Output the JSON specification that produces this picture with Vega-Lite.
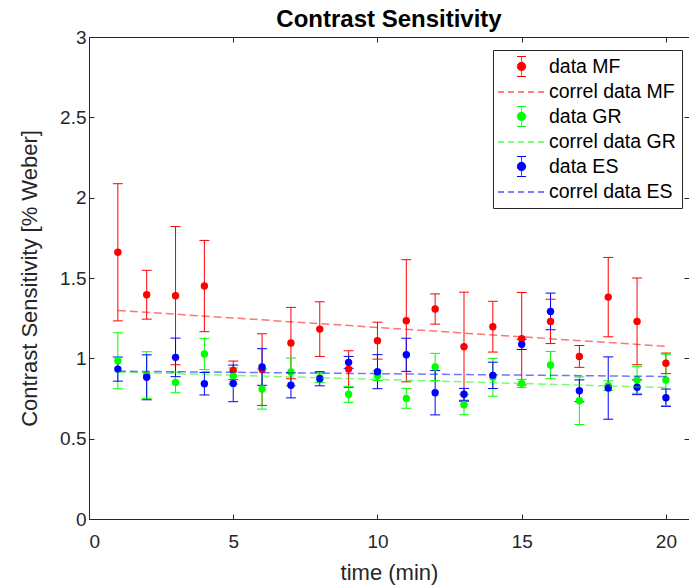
{
  "$schema": "https://vega.github.io/schema/vega-lite/v6.json",
  "width": 600,
  "height": 482,
  "autosize": "none",
  "padding": {"left": 89, "top": 37, "right": 0, "bottom": 66},
  "background": "white",
  "config": {
    "font": "Liberation Sans",
    "view": {"stroke": "#262626", "strokeWidth": 1},
    "axis": {"grid": false, "domainColor": "#262626", "tickColor": "#262626", "labelColor": "#262626", "titleColor": "#262626", "labelFont": "Liberation Sans", "titleFont": "Liberation Sans", "labelFontSize": 19, "titleFontSize": 22, "titleFontWeight": "normal", "tickSize": -5}
  },
  "title": {"text": "Contrast Sensitivity", "fontSize": 24, "fontWeight": "bold", "font": "Liberation Sans", "color": "#000000", "offset": -4},
  "datasets": {
    "pts": [
      {"t": 1, "s": "data MF", "v": 1.66, "lo": 1.233, "hi": 2.087},
      {"t": 2, "s": "data MF", "v": 1.396, "lo": 1.244, "hi": 1.548},
      {"t": 3, "s": "data MF", "v": 1.39, "lo": 0.96, "hi": 1.82},
      {"t": 4, "s": "data MF", "v": 1.45, "lo": 1.166, "hi": 1.734},
      {"t": 5, "s": "data MF", "v": 0.925, "lo": 0.867, "hi": 0.983},
      {"t": 6, "s": "data MF", "v": 0.93, "lo": 0.707, "hi": 1.153},
      {"t": 7, "s": "data MF", "v": 1.095, "lo": 0.873, "hi": 1.317},
      {"t": 8, "s": "data MF", "v": 1.182, "lo": 1.012, "hi": 1.352},
      {"t": 9, "s": "data MF", "v": 0.933, "lo": 0.819, "hi": 1.047},
      {"t": 10, "s": "data MF", "v": 1.11, "lo": 0.995, "hi": 1.225},
      {"t": 11, "s": "data MF", "v": 1.234, "lo": 0.854, "hi": 1.614},
      {"t": 12, "s": "data MF", "v": 1.307, "lo": 1.213, "hi": 1.401},
      {"t": 13, "s": "data MF", "v": 1.072, "lo": 0.732, "hi": 1.412},
      {"t": 14, "s": "data MF", "v": 1.197, "lo": 1.039, "hi": 1.355},
      {"t": 15, "s": "data MF", "v": 1.122, "lo": 0.834, "hi": 1.41},
      {"t": 16, "s": "data MF", "v": 1.23, "lo": 1.092, "hi": 1.368},
      {"t": 17, "s": "data MF", "v": 1.012, "lo": 0.944, "hi": 1.08},
      {"t": 18, "s": "data MF", "v": 1.381, "lo": 1.134, "hi": 1.628},
      {"t": 19, "s": "data MF", "v": 1.23, "lo": 0.96, "hi": 1.5},
      {"t": 20, "s": "data MF", "v": 0.969, "lo": 0.905, "hi": 1.033},
      {"t": 1, "s": "data GR", "v": 0.985, "lo": 0.811, "hi": 1.159},
      {"t": 2, "s": "data GR", "v": 0.896, "lo": 0.751, "hi": 1.041},
      {"t": 3, "s": "data GR", "v": 0.85, "lo": 0.786, "hi": 0.914},
      {"t": 4, "s": "data GR", "v": 1.027, "lo": 0.93, "hi": 1.124},
      {"t": 5, "s": "data GR", "v": 0.89, "lo": 0.84, "hi": 0.94},
      {"t": 6, "s": "data GR", "v": 0.809, "lo": 0.684, "hi": 0.934},
      {"t": 7, "s": "data GR", "v": 0.915, "lo": 0.828, "hi": 1.002},
      {"t": 8, "s": "data GR", "v": 0.88, "lo": 0.85, "hi": 0.91},
      {"t": 9, "s": "data GR", "v": 0.776, "lo": 0.726, "hi": 0.826},
      {"t": 10, "s": "data GR", "v": 0.892, "lo": 0.862, "hi": 0.922},
      {"t": 11, "s": "data GR", "v": 0.751, "lo": 0.689, "hi": 0.813},
      {"t": 12, "s": "data GR", "v": 0.946, "lo": 0.861, "hi": 1.031},
      {"t": 13, "s": "data GR", "v": 0.711, "lo": 0.649, "hi": 0.773},
      {"t": 14, "s": "data GR", "v": 0.882, "lo": 0.764, "hi": 1.0},
      {"t": 15, "s": "data GR", "v": 0.844, "lo": 0.819, "hi": 0.869},
      {"t": 16, "s": "data GR", "v": 0.958, "lo": 0.873, "hi": 1.043},
      {"t": 17, "s": "data GR", "v": 0.736, "lo": 0.588, "hi": 0.884},
      {"t": 18, "s": "data GR", "v": 0.83, "lo": 0.8, "hi": 0.86},
      {"t": 19, "s": "data GR", "v": 0.865, "lo": 0.782, "hi": 0.948},
      {"t": 20, "s": "data GR", "v": 0.865, "lo": 0.705, "hi": 1.025},
      {"t": 1, "s": "data ES", "v": 0.933, "lo": 0.858, "hi": 1.008},
      {"t": 2, "s": "data ES", "v": 0.882, "lo": 0.742, "hi": 1.022},
      {"t": 3, "s": "data ES", "v": 1.006, "lo": 0.886, "hi": 1.126},
      {"t": 4, "s": "data ES", "v": 0.842, "lo": 0.772, "hi": 0.912},
      {"t": 5, "s": "data ES", "v": 0.844, "lo": 0.73, "hi": 0.958},
      {"t": 6, "s": "data ES", "v": 0.946, "lo": 0.832, "hi": 1.06},
      {"t": 7, "s": "data ES", "v": 0.832, "lo": 0.754, "hi": 0.91},
      {"t": 8, "s": "data ES", "v": 0.873, "lo": 0.829, "hi": 0.917},
      {"t": 9, "s": "data ES", "v": 0.975, "lo": 0.938, "hi": 1.012},
      {"t": 10, "s": "data ES", "v": 0.917, "lo": 0.811, "hi": 1.023},
      {"t": 11, "s": "data ES", "v": 1.022, "lo": 0.919, "hi": 1.125},
      {"t": 12, "s": "data ES", "v": 0.786, "lo": 0.648, "hi": 0.924},
      {"t": 13, "s": "data ES", "v": 0.776, "lo": 0.739, "hi": 0.813},
      {"t": 14, "s": "data ES", "v": 0.894, "lo": 0.812, "hi": 0.976},
      {"t": 15, "s": "data ES", "v": 1.087, "lo": 1.055, "hi": 1.119},
      {"t": 16, "s": "data ES", "v": 1.292, "lo": 1.178, "hi": 1.406},
      {"t": 17, "s": "data ES", "v": 0.798, "lo": 0.73, "hi": 0.866},
      {"t": 18, "s": "data ES", "v": 0.815, "lo": 0.621, "hi": 1.009},
      {"t": 19, "s": "data ES", "v": 0.82, "lo": 0.774, "hi": 0.866},
      {"t": 20, "s": "data ES", "v": 0.755, "lo": 0.701, "hi": 0.809}
    ],
    "fit": [
      {"t": 1, "s": "correl data MF", "v": 1.298},
      {"t": 20, "s": "correl data MF", "v": 1.075},
      {"t": 1, "s": "correl data GR", "v": 0.915},
      {"t": 20, "s": "correl data GR", "v": 0.818},
      {"t": 1, "s": "correl data ES", "v": 0.92},
      {"t": 20, "s": "correl data ES", "v": 0.887}
    ]
  },
  "resolve": {"axis": {"x": "independent", "y": "independent"}},
  "layer": [
    {
      "data": {"name": "pts"},
      "mark": {"type": "rule", "strokeWidth": 1},
      "encoding": {
        "x": {"field": "t", "type": "quantitative", "scale": {"domain": [0, 20.8], "nice": false, "zero": false},
              "axis": {"orient": "bottom", "values": [0, 5, 10, 15, 20], "title": "time (min)", "labelPadding": 18, "titlePadding": 11}},
        "y": {"field": "lo", "type": "quantitative", "scale": {"domain": [0, 3], "nice": false},
              "axis": {"orient": "left", "values": [0, 0.5, 1, 1.5, 2, 2.5, 3], "format": "~g", "title": "Contrast Sensitivity [% Weber]", "labelPadding": 8, "titlePadding": 18}},
        "y2": {"field": "hi"},
        "color": {"field": "s", "type": "nominal",
          "scale": {"domain": ["data MF", "correl data MF", "data GR", "correl data GR", "data ES", "correl data ES"],
                    "range": ["#ff0000", "#ff0000", "#00ff00", "#00ff00", "#0000ff", "#0000ff"]},
          "legend": {"orient": "none", "legendX": 404, "legendY": 13, "title": null, "fillColor": "white", "strokeColor": "#262626",
                     "padding": 6, "rowPadding": 2.5, "symbolSize": 400, "symbolOffset": 12, "labelOffset": 17,
                     "labelFontSize": 19.5, "labelFont": "Liberation Sans", "labelColor": "#000000",
                     "encoding": {"symbols": {
                        "shape": {"value": {"expr": "indexof(datum.value, 'correl') === 0 ? 'M-2.35,0H2.35' : 'M-0.45,-1H0.45M0,-1V1M-0.45,1H0.45M-0.42,0A0.42,0.42,0,1,1,0.42,0A0.42,0.42,0,1,1,-0.42,0Z'"}},
                        "fill": {"value": {"expr": "indexof(datum.value, 'correl') === 0 ? 'transparent' : scale('color', datum.value)"}},
                        "stroke": {"value": {"expr": "scale('color', datum.value)"}},
                        "strokeDash": {"value": {"expr": "indexof(datum.value, 'correl') === 0 ? [6, 4] : [1, 0]"}},
                        "strokeWidth": {"value": 1},
                        "opacity": {"value": 1},
                        "size": {"value": 400}
                     }}}
        }
      }
    },
    {
      "data": {"name": "pts"},
      "mark": {"type": "tick", "orient": "horizontal", "size": 10, "thickness": 1},
      "encoding": {
        "x": {"field": "t", "type": "quantitative", "axis": null},
        "y": {"field": "lo", "type": "quantitative", "axis": null},
        "color": {"field": "s", "type": "nominal"},
        "opacity": {"value": 1}
      }
    },
    {
      "data": {"name": "pts"},
      "mark": {"type": "tick", "orient": "horizontal", "size": 10, "thickness": 1},
      "encoding": {
        "x": {"field": "t", "type": "quantitative", "axis": null},
        "y": {"field": "hi", "type": "quantitative", "axis": null},
        "color": {"field": "s", "type": "nominal"},
        "opacity": {"value": 1}
      }
    },
    {
      "data": {"name": "pts"},
      "mark": {"type": "circle", "size": 55, "opacity": 1},
      "encoding": {
        "x": {"field": "t", "type": "quantitative", "axis": null},
        "y": {"field": "v", "type": "quantitative", "axis": null},
        "color": {"field": "s", "type": "nominal"}
      }
    },
    {
      "data": {"name": "fit"},
      "mark": {"type": "line", "strokeDash": [8, 4], "strokeWidth": 1.5, "opacity": 0.55},
      "encoding": {
        "x": {"field": "t", "type": "quantitative",
              "axis": {"orient": "top", "values": [0, 5, 10, 15, 20], "labels": false, "title": null, "domain": false}},
        "y": {"field": "v", "type": "quantitative",
              "axis": {"orient": "right", "values": [0, 0.5, 1, 1.5, 2, 2.5, 3], "labels": false, "title": null, "domain": false}},
        "color": {"field": "s", "type": "nominal"}
      }
    }
  ]
}
